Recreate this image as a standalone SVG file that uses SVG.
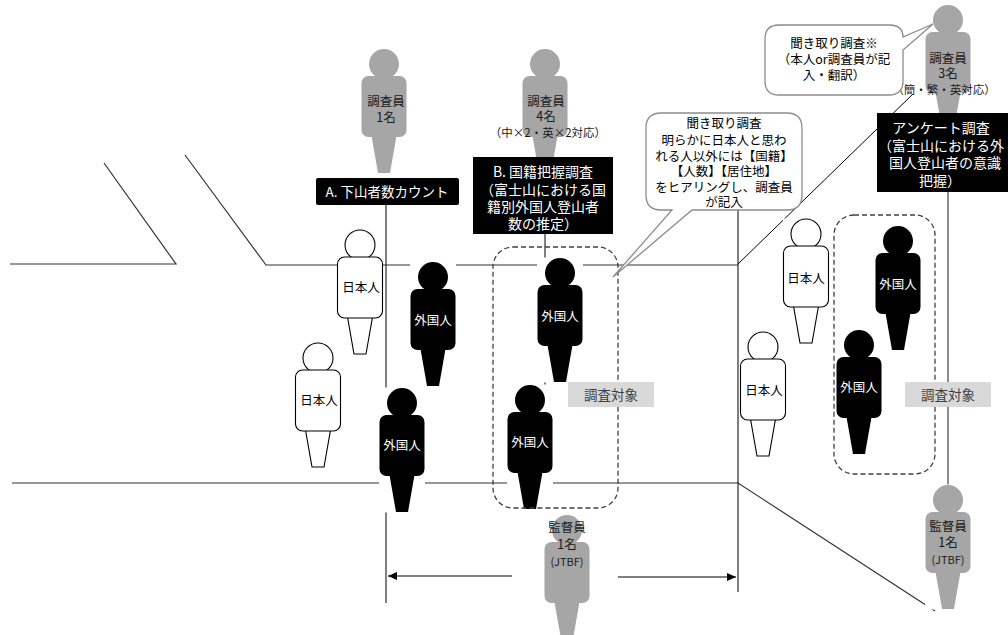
<svg xmlns="http://www.w3.org/2000/svg" xmlns:xlink="http://www.w3.org/1999/xlink" width="1008" height="635" viewBox="0 0 1008 635">
  <style>
    text { font-family: "Noto Sans CJK JP", "Noto Sans", sans-serif; text-anchor: middle; }
    .road { stroke: #333; stroke-width: 1.2; fill: none; }
    .guide { stroke: #000; stroke-width: 1; fill: none; }
    .grey-guide { stroke: #8c8c8c; stroke-width: 2; fill: none; }
    .staff { fill: #a6a6a6; stroke: none; }
    .jp { fill: #fff; stroke: #000; stroke-width: 1.1; }
    .fo { fill: #000; stroke: none; }
    .staff-t { font-size: 12.5px; fill: #1a1a1a; }
    .staff-s { font-size: 11.5px; fill: #1a1a1a; }
    .jp-t { font-size: 12.5px; fill: #000; }
    .fo-t { font-size: 12.5px; fill: #fff; }
    .label-box { fill: #000; }
    .label-t { font-size: 14px; fill: #fff; }
    .bubble { fill: #fff; stroke: #8c8c8c; stroke-width: 1.3; }
    .bubble-t { font-size: 12.5px; fill: #000; }
    .zone { fill: none; stroke: #404040; stroke-width: 1.3; stroke-dasharray: 5 3; }
    .tag { fill: #d9d9d9; }
    .tag-t { font-size: 13.5px; fill: #404040; }
  </style>
  <defs>
    <!-- person pictogram: head, leg, body, on a white backing that masks lines behind -->
    <g id="person">
      <rect x="-23" y="-15.5" width="46" height="125" fill="#fff" stroke="none"/>
      <circle cx="0" cy="0" r="15"/>
      <path d="M-12.5,72 L12.5,72 L6,109 L-6,109 Z"/>
      <rect x="-22.5" y="12" width="45" height="61" rx="7"/>
    </g>
    <marker id="arrow" markerWidth="9" markerHeight="8" refX="9" refY="4" orient="auto" markerUnits="userSpaceOnUse">
      <path d="M0,0 L9,4 L0,8 Z" fill="#000"/>
    </marker>
  </defs>

  <!-- road edges and guide lines -->
  <g id="connectors">
    <path class="road" d="M10,264 H176 L104,163"/>
    <path class="road" d="M185,155 L266,265 H738"/>
    <path class="road" d="M12,483 H738 L935,611"/>
    <path class="guide" d="M738,210 V592"/>
    <path class="guide" d="M738,264 L913,94"/>
    <path class="guide" d="M386,205 V603"/>
    <path class="guide" d="M545,234 V500"/>
    <path class="grey-guide" d="M948,192 V486"/>
    <line class="guide" x1="512" y1="576" x2="388" y2="576" marker-end="url(#arrow)"/>
    <line class="guide" x1="618" y1="577" x2="736" y2="577" marker-end="url(#arrow)"/>
  </g>

  <!-- surveyors -->
  <g id="staff-count">
    <use xlink:href="#person" class="staff" transform="translate(384,64)"/>
    <text class="staff-t" x="386" y="106">調査員</text>
    <text class="staff-t" x="386" y="122">1名</text>
  </g>
  <g id="staff-nationality">
    <use xlink:href="#person" class="staff" transform="translate(545,64)"/>
    <text class="staff-t" x="546" y="106">調査員</text>
    <text class="staff-t" x="546" y="121">4名</text>
    <text class="staff-s" x="548" y="137">（中×2・英×2対応）</text>
  </g>
  <g id="staff-survey">
    <use xlink:href="#person" class="staff" transform="translate(948,20)"/>
    <text class="staff-t" x="948" y="63">調査員</text>
    <text class="staff-t" x="948" y="78">3名</text>
    <text class="staff-s" x="944" y="94">（簡・繁・英対応）</text>
  </g>
  <g id="supervisor-center">
    <use xlink:href="#person" class="staff" transform="translate(567,530)"/>
    <text class="staff-t" x="567" y="532">監督員</text>
    <text class="staff-t" x="567" y="549">1名</text>
    <text class="staff-s" x="567" y="566" style="font-size:11px">(JTBF)</text>
  </g>
  <g id="supervisor-right">
    <use xlink:href="#person" class="staff" transform="translate(948,500)"/>
    <text class="staff-t" x="948" y="531">監督員</text>
    <text class="staff-t" x="948" y="547">1名</text>
    <text class="staff-s" x="948" y="564" style="font-size:11px">(JTBF)</text>
  </g>

  <!-- climbers -->
  <g id="jp-1">
    <use xlink:href="#person" class="jp" transform="translate(360,245)"/>
    <text class="jp-t" x="361" y="292">日本人</text>
  </g>
  <g id="jp-2">
    <use xlink:href="#person" class="jp" transform="translate(318,358)"/>
    <text class="jp-t" x="319" y="405">日本人</text>
  </g>
  <g id="fo-1">
    <use xlink:href="#person" class="fo" transform="translate(433,277)"/>
    <text class="fo-t" x="433" y="325">外国人</text>
  </g>
  <g id="fo-2">
    <use xlink:href="#person" class="fo" transform="translate(402,403)"/>
    <text class="fo-t" x="402" y="450">外国人</text>
  </g>
  <g id="fo-3">
    <use xlink:href="#person" class="fo" transform="translate(560,273)"/>
    <text class="fo-t" x="560" y="321">外国人</text>
  </g>
  <g id="fo-4">
    <use xlink:href="#person" class="fo" transform="translate(530,400)"/>
    <text class="fo-t" x="530" y="447">外国人</text>
  </g>
  <g id="jp-3">
    <use xlink:href="#person" class="jp" transform="translate(806,234)"/>
    <text class="jp-t" x="806" y="283">日本人</text>
  </g>
  <g id="jp-4">
    <use xlink:href="#person" class="jp" transform="translate(763,347)"/>
    <text class="jp-t" x="764" y="395">日本人</text>
  </g>
  <g id="fo-5">
    <use xlink:href="#person" class="fo" transform="translate(898,241)"/>
    <text class="fo-t" x="898" y="289">外国人</text>
  </g>
  <g id="fo-6">
    <use xlink:href="#person" class="fo" transform="translate(859,345)"/>
    <text class="fo-t" x="859" y="392">外国人</text>
  </g>

  <!-- target zones -->
  <g id="zone-nationality">
    <rect class="zone" x="493" y="247" width="125" height="261" rx="20"/>
    <rect class="tag" x="568" y="382" width="86" height="25"/>
    <text class="tag-t" x="611" y="400">調査対象</text>
  </g>
  <g id="zone-survey">
    <rect class="zone" x="834" y="215" width="101" height="259" rx="20"/>
    <rect class="tag" x="905" y="382" width="86" height="25"/>
    <text class="tag-t" x="948" y="400">調査対象</text>
  </g>

  <!-- survey labels -->
  <g id="label-a">
    <rect class="label-box" x="316" y="178" width="143" height="27" rx="2"/>
    <text class="label-t" x="387" y="197" style="font-size:13.5px">A. 下山者数カウント</text>
  </g>
  <g id="label-b">
    <rect class="label-box" x="473" y="157" width="140" height="77"/>
    <text class="label-t" x="543" y="177">B. 国籍把握調査</text>
    <text class="label-t" x="543" y="195">（富士山における国</text>
    <text class="label-t" x="543" y="212">籍別外国人登山者</text>
    <text class="label-t" x="543" y="229">数の推定）</text>
  </g>
  <g id="label-survey">
    <rect class="label-box" x="877" y="113" width="135" height="79"/>
    <text class="label-t" x="941" y="133">アンケート調査</text>
    <text class="label-t" x="941" y="151">（富士山における外</text>
    <text class="label-t" x="945" y="168">国人登山者の意識</text>
    <text class="label-t" x="940" y="186">把握）</text>
  </g>

  <!-- interview callouts -->
  <g id="callout-survey">
    <path class="bubble" d="M779,25 H889 Q903,25 903,37 L933,24 L903,50 V81 Q903,95 889,95 H779 Q765,95 765,81 V39 Q765,25 779,25 Z"/>
    <text class="bubble-t" x="834" y="48">聞き取り調査※</text>
    <text class="bubble-t" x="834" y="64">（本人or調査員が記</text>
    <text class="bubble-t" x="834" y="80">入・翻訳）</text>
  </g>
  <g id="callout-nationality">
    <path class="bubble" d="M661,113 H787 Q802,113 802,128 V195 Q802,210 787,210 H692 L613,277 L672,210 H661 Q646,210 646,195 V128 Q646,113 661,113 Z"/>
    <text class="bubble-t" x="724" y="128">聞き取り調査</text>
    <text class="bubble-t" x="724" y="145">明らかに日本人と思わ</text>
    <text class="bubble-t" x="724" y="161">れる人以外には【国籍】</text>
    <text class="bubble-t" x="724" y="176">【人数】【居住地】</text>
    <text class="bubble-t" x="724" y="192">をヒアリングし、調査員</text>
    <text class="bubble-t" x="724" y="207">が記入</text>
  </g>
</svg>
